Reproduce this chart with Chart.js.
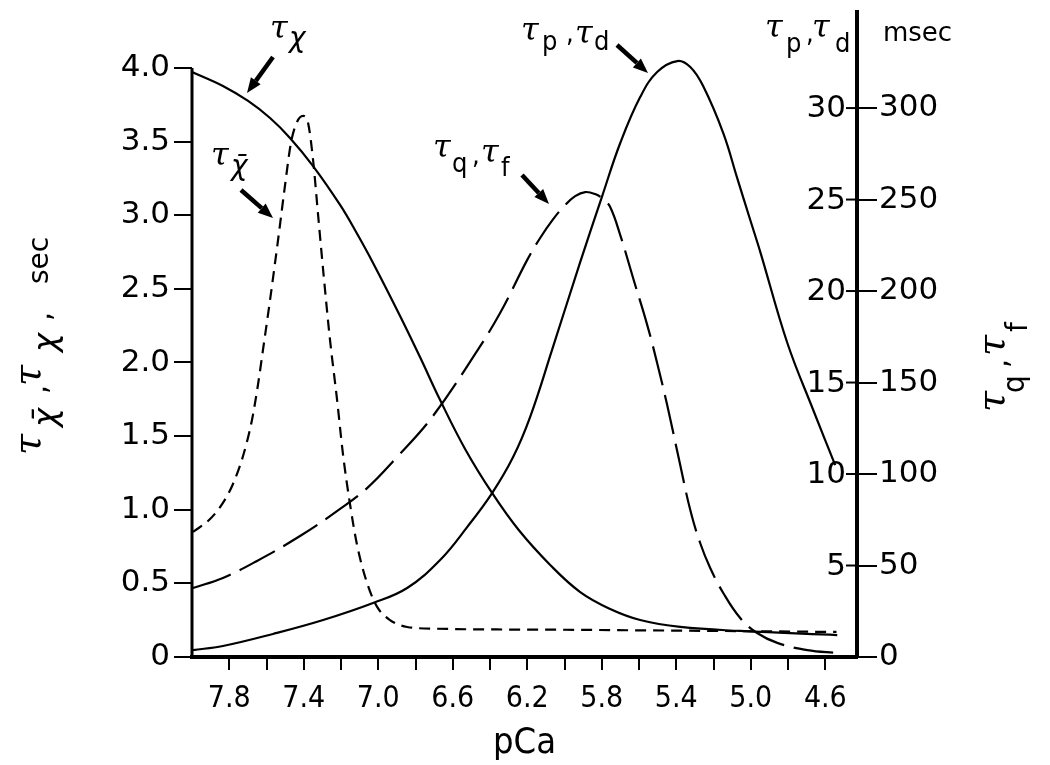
<!DOCTYPE html>
<html><head><meta charset="utf-8">
<script src="https://cdn.jsdelivr.net/npm/chart.js@4.4.1/dist/chart.umd.min.js"></script>
<style>html,body{margin:0;padding:0;background:#fff}canvas{display:block}</style>
</head><body>
<canvas id="c" width="1050" height="765"></canvas>
<script>
// ---- data ----
// tau_chi (solid, left axis, sec)
const pCaTauChi = [8.000, 7.834, 7.699, 7.581, 7.474, 7.350, 7.205, 7.119, 7.028, 6.883, 6.776, 6.668, 6.534, 6.389, 6.246, 6.077, 5.916, 5.755, 5.594, 5.379, 5.057, 4.536];
const tauChi    = [3.973, 3.878, 3.776, 3.660, 3.525, 3.334, 3.070, 2.886, 2.676, 2.316, 2.037, 1.745, 1.413, 1.114, 0.862, 0.625, 0.441, 0.326, 0.251, 0.204, 0.177, 0.149];
// tau_chi-bar (short dash, left axis, sec)
const pCaTauChiBar = [7.995, 7.903, 7.834, 7.780, 7.726, 7.678, 7.646, 7.619, 7.581, 7.538, 7.501, 7.468, 7.436, 7.404, 7.377, 7.350, 7.323, 7.296, 7.259, 7.221, 7.189, 7.151, 7.114, 7.060, 7.006, 6.937, 6.845, 6.684, 6.0, 5.0, 4.54];
const tauChiBar    = [0.849, 0.937, 1.046, 1.175, 1.365, 1.610, 1.847, 2.085, 2.425, 2.832, 3.199, 3.497, 3.633, 3.674, 3.627, 3.375, 3.001, 2.628, 2.152, 1.745, 1.372, 1.032, 0.761, 0.502, 0.340, 0.251, 0.204, 0.192, 0.185, 0.175, 0.17];
// tau_q, tau_f (long dash, right axis, msec)
const pCaTauQ = [7.995, 7.834, 7.651, 7.420, 7.205, 7.060, 6.899, 6.711, 6.491, 6.346, 6.201, 6.131, 6.061, 5.997, 5.943, 5.889, 5.836, 5.793, 5.755, 5.701, 5.632, 5.556, 5.503, 5.449, 5.379, 5.325, 5.272, 5.218, 5.148, 5.057, 4.966, 4.858, 4.697, 4.536];
const tauQ    = [37.7, 43.2, 52.5, 66.1, 80.9, 92.3, 109.3, 131.1, 163.9, 188.0, 216.9, 229.0, 239.3, 247.0, 251.9, 254.1, 253.0, 250.3, 245.9, 230.6, 207.1, 181.4, 160.7, 137.7, 104.9, 80.3, 62.3, 48.6, 35.0, 21.3, 13.1, 7.7, 3.8, 2.2];
// tau_p, tau_d (solid, right axis)
const pCaTauP = [7.995, 7.834, 7.565, 7.296, 7.028, 6.845, 6.668, 6.523, 6.389, 6.276, 6.185, 6.067, 5.916, 5.798, 5.701, 5.594, 5.503, 5.395, 5.325, 5.256, 5.148, 5.073, 5.003, 4.949, 4.804, 4.665, 4.547];
const tauP    = [3.8, 6.0, 12.6, 20.2, 29.5, 37.7, 53.0, 71.0, 89.6, 109.3, 131.1, 167.8, 215.8, 251.9, 280.9, 306.0, 319.7, 325.7, 322.4, 312.0, 286.3, 261.7, 238.8, 221.3, 171.6, 135.0, 104.9];

// ---- ticks ----
const xMajorTicks = [7.8, 7.4, 7.0, 6.6, 6.2, 5.8, 5.4, 5.0, 4.6];
const xMajorLabels = ['7.8', '7.4', '7.0', '6.6', '6.2', '5.8', '5.4', '5.0', '4.6'];
const xMinorTicks = [7.6, 7.2, 6.8, 6.4, 6.0, 5.6, 5.2, 4.8];
const yTicks = [0, 0.5, 1.0, 1.5, 2.0, 2.5, 3.0, 3.5, 4.0];
const yTickLabels = ['0', '0.5', '1.0', '1.5', '2.0', '2.5', '3.0', '3.5', '4.0'];
const y2Ticks = [0, 50, 100, 150, 200, 250, 300];
const y2TickLabels = ['0', '50', '100', '150', '200', '250', '300'];
const innerTicks = [50, 100, 150, 200, 250, 300];
const innerTickLabels = ['5', '10', '15', '20', '25', '30'];

const X_MIN = 4.43, X_MAX = 8.0;
const Y_MAX = 4.38, Y2_MAX = 352.5;

const NUM_FONT = "'DejaVu Sans', 'Liberation Sans', sans-serif";
const NARROW = "'Liberation Sans Narrow', 'DejaVu Sans Condensed', 'Liberation Sans', sans-serif";
const TAU_FONT = "'DejaVu Serif', 'Liberation Serif', serif";

const xy = (xs, ys) => xs.map((x, i) => ({x: x, y: ys[i]}));

const annot = {
  id: 'annot',
  afterDraw(chart) {
    const ctx = chart.ctx;
    const ys = chart.scales.y, y2 = chart.scales.y2, ca = chart.chartArea;
    ctx.save();
    ctx.strokeStyle = '#000'; ctx.fillStyle = '#000';
    // left axis line 0 .. 4.0
    ctx.lineWidth = 3;
    ctx.beginPath();
    ctx.moveTo(ca.left, ys.getPixelForValue(0) + 2);
    ctx.lineTo(ca.left, ys.getPixelForValue(4.0));
    ctx.stroke();
    // inner ticks + labels on right axis
    ctx.lineWidth = 2;
    ctx.font = '31px ' + NUM_FONT;
    ctx.textAlign = 'right'; ctx.textBaseline = 'middle';
    innerTicks.forEach((v, i) => {
      const py = y2.getPixelForValue(v);
      ctx.beginPath(); ctx.moveTo(y2.left - 11, py); ctx.lineTo(y2.left, py); ctx.stroke();
      ctx.fillText(innerTickLabels[i], y2.left - 11, py + 1);
    });
    ctx.textAlign = 'left'; ctx.textBaseline = 'alphabetic';

    const tauF = 'italic 32px ' + TAU_FONT;
    const subF = '27px ' + NARROW;
    const chiF = 'italic 28px ' + NUM_FONT;
    function piece(t, f, x, y) { ctx.font = f; ctx.fillText(t, x, y); }
    function arrow(x1, y1, x2, y2b) {
      const a = Math.atan2(y2b - y1, x2 - x1), L = 15, W = 6;
      const bx = x2 - L * Math.cos(a), by = y2b - L * Math.sin(a);
      ctx.lineWidth = 4.5;
      ctx.beginPath(); ctx.moveTo(x1, y1); ctx.lineTo(bx, by); ctx.stroke();
      ctx.beginPath();
      ctx.moveTo(x2, y2b);
      ctx.lineTo(bx + W * Math.sin(a), by - W * Math.cos(a));
      ctx.lineTo(bx - W * Math.sin(a), by + W * Math.cos(a));
      ctx.closePath(); ctx.fill();
    }
    // tau_chi label
    piece('τ', tauF, 270, 38);
    piece('χ', chiF, 289, 47);
    arrow(273, 57, 247, 93);
    // tau_chi-bar label
    piece('τ', tauF, 211, 165);
    piece('χ\u0304', chiF, 231, 175);
    arrow(241, 190, 273, 218);
    // tau_q, tau_f
    piece('τ', tauF, 433, 157);
    piece('q', subF, 452, 172);
    piece(',', subF, 472, 164);
    piece('τ', tauF, 481, 162);
    piece('f', subF, 501, 176);
    arrow(522, 175, 549, 204);
    // tau_p, tau_d (middle)
    piece('τ', tauF, 521, 40);
    piece('p', subF, 542, 50);
    piece(',', subF, 566, 42);
    piece('τ', tauF, 575, 43);
    piece('d', subF, 594, 50);
    arrow(617, 45, 648, 73);
    // tau_p, tau_d at right axis
    piece('τ', tauF, 765, 37);
    piece('p', subF, 786, 52);
    piece(',', subF, 806, 42);
    piece('τ', tauF, 812, 37);
    piece('d', subF, 835, 52);
    // msec
    piece('msec', '26px ' + NUM_FONT, 883, 41);

    function rpiece(t, f, along, base) {
      ctx.save(); ctx.translate(base, along); ctx.rotate(-Math.PI / 2);
      ctx.font = f; ctx.fillText(t, 0, 0); ctx.restore();
    }
    const tauT = 'italic 38px ' + TAU_FONT;
    const chiT = 'italic 32px ' + NUM_FONT;
    const subT = '31px ' + NARROW;
    // left title (rotated)
    rpiece('τ', tauT, 455, 40);
    rpiece('χ\u0304', chiT, 427, 56);
    rpiece(',', subT, 394, 46);
    rpiece('τ', tauT, 386, 40);
    rpiece('χ', chiT, 352, 56);
    rpiece(',', subT, 321, 50);
    rpiece('sec', '28px ' + NUM_FONT, 284, 48);
    // right title
    rpiece('τ', tauT, 412, 1004);
    rpiece('q', subT, 393, 1024);
    rpiece(',', subT, 368, 1007);
    rpiece('τ', tauT, 356, 1004);
    rpiece('f', subT, 332, 1027);
    ctx.restore();
  }
};

function noVPad(s) { s.paddingTop = 0; s.paddingBottom = 0; }

new Chart(document.getElementById('c'), {
  type: 'line',
  data: {
    datasets: [
      {data: xy(pCaTauChi, tauChi), yAxisID: 'y'},
      {data: xy(pCaTauChiBar, tauChiBar), yAxisID: 'y', borderDash: [11, 7], cubicInterpolationMode: 'monotone'},
      {data: xy(pCaTauQ, tauQ), yAxisID: 'y2', borderDash: [40, 10]},
      {data: xy(pCaTauP, tauP), yAxisID: 'y2'}
    ]
  },
  options: {
    responsive: false,
    animation: false,
    layout: {padding: {top: 12, left: 0, right: 0, bottom: 0}},
    plugins: {legend: {display: false}, tooltip: {enabled: false}},
    elements: {
      point: {radius: 0},
      line: {borderWidth: 2.2, borderColor: '#000', tension: 0.4, capBezierPoints: true, fill: false}
    },
    scales: {
      x: {
        type: 'linear', reverse: true, min: X_MIN, max: X_MAX,
        afterBuildTicks(s) {
          s.ticks = xMajorTicks.concat(xMinorTicks).sort((a, b) => b - a).map(v => ({value: v}));
        },
        afterFit(s) { s.height = 108; s.paddingLeft = 0; s.paddingRight = 0; },
        ticks: {
          autoSkip: false, maxRotation: 0, color: '#000', padding: 11,
          font: {family: NARROW, size: 30},
          callback(v) { const i = xMajorTicks.findIndex(t => Math.abs(t - v) < 1e-6); return i >= 0 ? xMajorLabels[i] : ''; }
        },
        grid: {drawOnChartArea: false, drawTicks: true, tickLength: 13, color: '#000', lineWidth: 2},
        border: {display: true, color: '#000', width: 4},
        title: {display: true, text: 'pCa', color: '#000', font: {family: NARROW, size: 36}, padding: {top: 0, bottom: 0}}
      },
      y: {
        position: 'left', min: 0, max: Y_MAX,
        afterBuildTicks(s) { s.ticks = yTicks.map(v => ({value: v})); },
        afterFit(s) { s.width = 192; noVPad(s); },
        ticks: {
          color: '#000', padding: 4, font: {family: NUM_FONT, size: 31},
          callback(v) { const i = yTicks.findIndex(t => Math.abs(t - v) < 1e-6); return i >= 0 ? yTickLabels[i] : ''; }
        },
        grid: {drawOnChartArea: false, drawTicks: true, tickLength: 18, color: '#000', lineWidth: 2},
        border: {display: false}
      },
      y2: {
        position: 'right', min: 0, max: Y2_MAX,
        afterBuildTicks(s) { s.ticks = y2Ticks.map(v => ({value: v})); },
        afterFit(s) { s.width = 193; noVPad(s); },
        ticks: {
          color: '#000', padding: 2, font: {family: NUM_FONT, size: 31},
          callback(v) { const i = y2Ticks.findIndex(t => Math.abs(t - v) < 1e-6); return i >= 0 ? y2TickLabels[i] : ''; }
        },
        grid: {drawOnChartArea: false, drawTicks: true, tickLength: 20, color: '#000', lineWidth: 2},
        border: {display: true, color: '#000', width: 4}
      }
    }
  },
  plugins: [annot]
});
</script>
</body></html>
